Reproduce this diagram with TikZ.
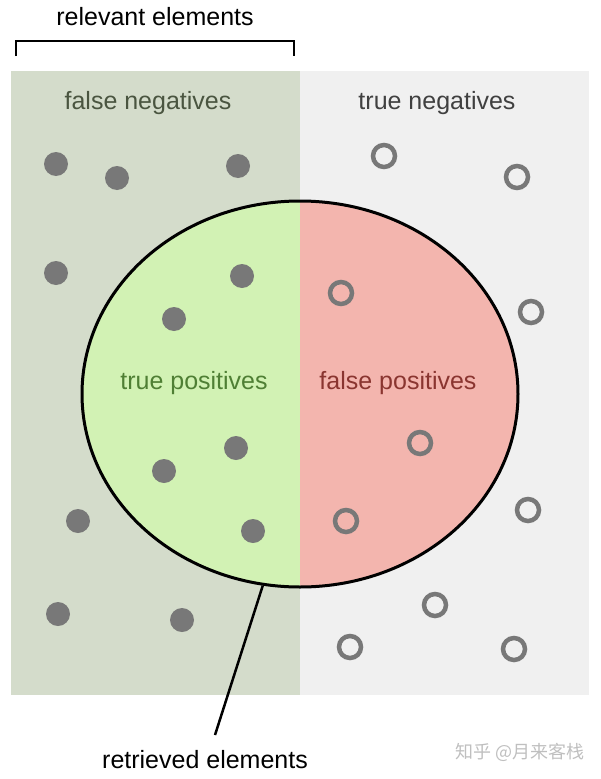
\documentclass[tikz,border=0pt]{standalone}
\usepackage{fontspec}
\setmainfont{Liberation Sans}
\newfontfamily\cjk{Noto Sans CJK SC}
\usetikzlibrary{shapes.geometric}
\definecolor{relbg}{HTML}{D4DCCB}
\definecolor{nonbg}{HTML}{F0F0F0}
\definecolor{tpfill}{HTML}{D2F2B4}
\definecolor{fpfill}{HTML}{F3B5AE}
\definecolor{dotgray}{HTML}{787878}
\definecolor{fntext}{HTML}{4A5540}
\definecolor{tptext}{HTML}{4F7F34}
\definecolor{fptext}{HTML}{8A3530}
\begin{document}
\begin{tikzpicture}[x=1pt,y=-1pt,
        lbl/.style={font=\fontsize{25}{29}\selectfont, align=center},
        full/.style={circle,fill=dotgray,minimum size=24pt,inner sep=0pt},
        hollow/.style={circle,draw=dotgray,line width=4.5pt,minimum size=22pt,inner sep=0pt},
        retr/.style={ellipse,draw=black,line width=3pt,minimum width=436pt,minimum height=386pt,inner sep=0pt}]
        \useasboundingbox (0,0) rectangle (600,779);

        % the two halves of the population
        \fill[relbg] (11,71) rectangle (300,695);
        \fill[nonbg] (300,71) rectangle (589,695);

        \node[lbl] (rel) at (155,17) {relevant elements};
        \draw[line width=2.5pt] (16,56) |- (294,41) -- (294,56);

        \node[lbl,fntext] (fn) at (148,103) {false negatives};
        \node[lbl,black!75] (tn) at (437,103) {true negatives};

        % retrieved set
        \node[retr,
            path picture={
                \fill[tpfill] (path picture bounding box.south west) rectangle (path picture bounding box.north);
                \fill[fpfill] (path picture bounding box.south) rectangle (path picture bounding box.north east);
            }] (ret) at (300,394) {};

        \node[lbl,tptext] (tp) at (194,383) {true positives};
        \node[lbl,fptext] (fp) at (398,383) {false positives};

        % relevant elements
        \node[full] (d1) at (56,164) {};
        \node[full] (d2) at (117,178) {};
        \node[full] (d3) at (238,166) {};
        \node[full] (d4) at (56,273) {};
        \node[full] (d5) at (242,276) {};
        \node[full] (d6) at (174,319) {};
        \node[full] (d7) at (236,448) {};
        \node[full] (d8) at (164,471) {};
        \node[full] (d9) at (78,521) {};
        \node[full] (d10) at (253,531) {};
        \node[full] (d11) at (58,614) {};
        \node[full] (d12) at (182,620) {};

        % non-relevant elements
        \node[hollow] (o1) at (384,156) {};
        \node[hollow] (o2) at (517,177) {};
        \node[hollow] (o3) at (341,293) {};
        \node[hollow] (o4) at (531,312) {};
        \node[hollow] (o5) at (420,443) {};
        \node[hollow] (o6) at (346,521) {};
        \node[hollow] (o7) at (528,510) {};
        \node[hollow] (o8) at (435,605) {};
        \node[hollow] (o9) at (350,647) {};
        \node[hollow] (o10) at (514,649) {};

        \node[lbl] (rtv) at (205,760) {retrieved elements};
        \coordinate (tip) at (215,735);
        \draw[line width=2.5pt] (ret.259) -- (tip);

        \node[font=\cjk\fontsize{18}{20}\selectfont,black!25] (wm) at (520,752) {知乎 @月来客栈};
    \end{tikzpicture}
\end{document}
